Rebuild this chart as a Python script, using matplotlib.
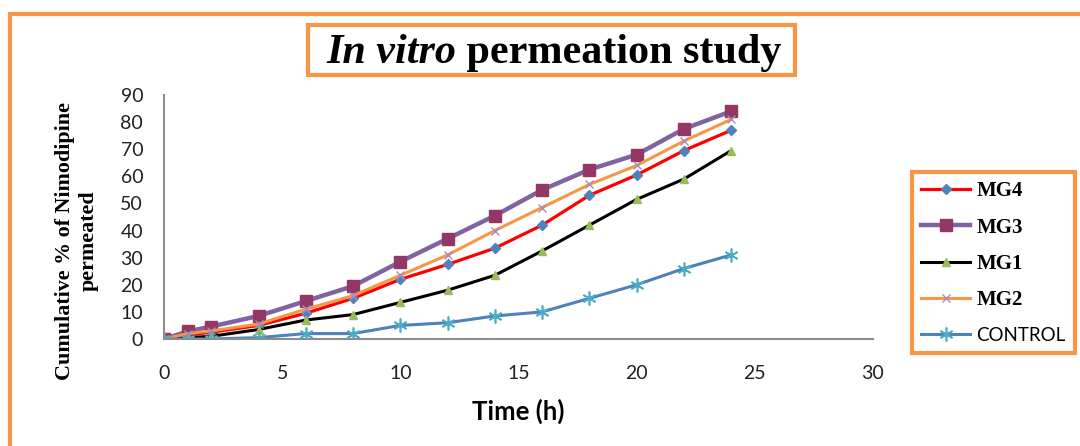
import matplotlib.pyplot as plt
from matplotlib.patches import Rectangle

# data
time_h = [0, 1, 2, 4, 6, 8, 10, 12, 14, 16, 18, 20, 22, 24]
mg4 = [0, 1.5, 2.5, 5, 9.5, 15, 22, 27.5, 33.5, 42, 53, 60.5, 69.5, 77]
mg3 = [0, 2.8, 4.6, 8.5, 14, 19.5, 28.5, 37, 45.5, 55, 62.5, 68, 77.5, 84]
mg1 = [0, 0.5, 1, 3.5, 7, 9, 13.5, 18, 23.5, 32.5, 42, 51.5, 59, 69.5]
mg2 = [0, 2, 3, 5.5, 11, 16, 23.5, 31, 40, 48.5, 57, 64, 73, 81]
control = [0, 0, 0, 0.5, 2, 2, 5, 6, 8.5, 10, 15, 20, 26, 31]

x_ticks = [0, 5, 10, 15, 20, 25, 30]
y_ticks = [0, 10, 20, 30, 40, 50, 60, 70, 80, 90]

W, H = 1080, 446
fig = plt.figure(figsize=(W / 100, H / 100), dpi=100)
ax = fig.add_axes([164 / W, 1 - 339 / H, (873 - 164) / W, (339 - 95) / H])

l_mg4, = ax.plot(time_h, mg4, color="#FF0000", lw=2.3, marker="D", ms=5.5,
                 mfc="#4F81BD", mec="#4F81BD", label="MG4")
l_mg3, = ax.plot(time_h, mg3, color="#8064A2", lw=3.2, marker="s", ms=8,
                 mfc="#953765", mec="#953765", label="MG3")
l_mg1, = ax.plot(time_h, mg1, color="black", lw=2.2, marker="^", ms=6,
                 mfc="#9BBB59", mec="#9BBB59", label="MG1")
l_mg2, = ax.plot(time_h, mg2, color="#F79646", lw=2.2, marker="x", ms=6,
                 mec="#A58BC0", mew=1.0, label="MG2")
l_ctl, = ax.plot(time_h, control, color="#4F81BD", lw=2.2, marker=(6, 2, 0), ms=10,
                 mec="#4BACC6", mew=1.2, label="CONTROL")

ax.set_xlim(0, 30)
ax.set_ylim(0, 90)
ax.set_xticks(x_ticks)
ax.set_yticks(y_ticks)
for s in ["top", "right"]:
    ax.spines[s].set_visible(False)
for s in ["left", "bottom"]:
    ax.spines[s].set_color("#8C8C8C")
    ax.spines[s].set_linewidth(1.5)
ax.tick_params(axis="x", length=0, pad=19, labelsize=14, labelcolor="#222222")
ax.tick_params(axis="y", length=0, pad=15, labelsize=14, labelcolor="#222222")
for lab in ax.get_xticklabels() + ax.get_yticklabels():
    lab.set_family("Lato")

ax.set_xlabel("Time (h)", family="Lato", fontweight="bold", fontsize=18.5, labelpad=12)
fig.text(77 / W, 1 - 241 / H, "Cumulative % of Nimodipine\npermeated",
         rotation=90, ha="center", va="center", ma="center",
         family="Liberation Serif", fontweight="bold", fontsize=15.8, linespacing=1.25)

# outer orange frame
fig.add_artist(Rectangle((10 / W, -0.1), 1.2, 1 - 13.5 / H + 0.1, transform=fig.transFigure,
                         fill=False, ec="#F79646", lw=3))

# title box
fig.add_artist(Rectangle((308 / W, 1 - 75 / H), 487 / W, 50 / H, transform=fig.transFigure,
                         fill=False, ec="#F79646", lw=3))
ty = 1 - 63 / H
t1 = fig.text(0, ty, "In vitro", family="Liberation Serif", style="italic",
              fontweight="bold", fontsize=30.3, va="baseline")
t2 = fig.text(0, ty, " permeation study", family="Liberation Serif",
              fontweight="bold", fontsize=30.3, va="baseline")
fig.canvas.draw()
r = fig.canvas.get_renderer()
w1 = t1.get_window_extent(r).width
w2 = t2.get_window_extent(r).width
x0 = (554 - (w1 + w2) / 2)
t1.set_x(x0 / W)
t2.set_x((x0 + w1) / W)

# legend
leg = fig.legend(handles=[l_mg4, l_mg3, l_mg1, l_mg2, l_ctl],
                 loc="upper left", bbox_to_anchor=(912 / W, 1 - 172 / H),
                 prop={"family": "Liberation Serif", "weight": "bold", "size": 15},
                 handlelength=2.35, handletextpad=0.3, labelspacing=0.78,
                 borderpad=0.45, borderaxespad=0, fancybox=False, framealpha=1)
leg.get_frame().set_edgecolor("#F79646")
leg.get_frame().set_linewidth(3)
ctl_text = leg.get_texts()[-1]
ctl_text.set_family("Lato")
ctl_text.set_fontweight("normal")
ctl_text.set_fontsize(13.5)

fig.savefig("out.png", dpi=100)
